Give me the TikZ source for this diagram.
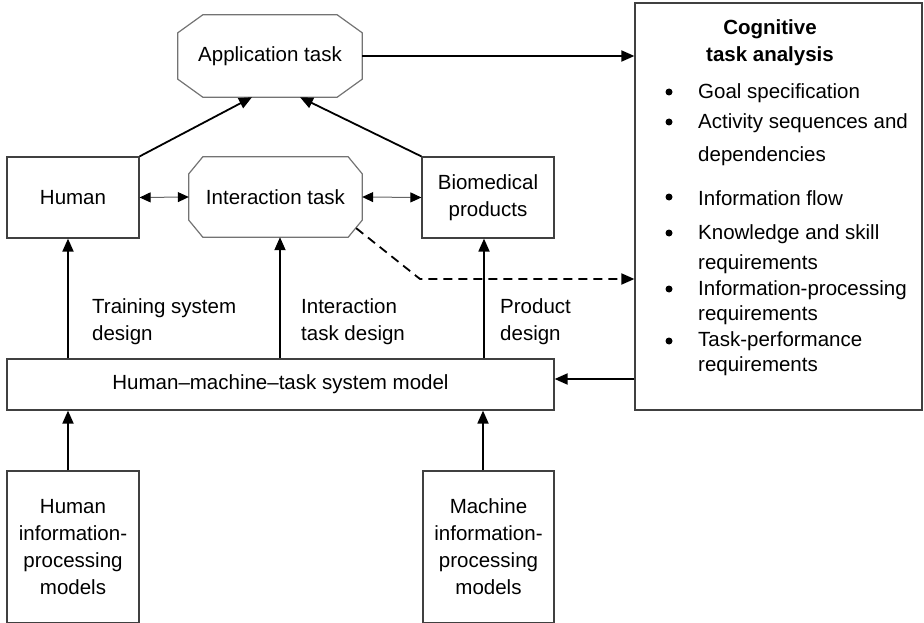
\documentclass[tikz,border=0pt]{standalone}
\usepackage{fontspec}
\setmainfont{Liberation Sans}
\usetikzlibrary{arrows.meta, positioning}

% octagon outline round a named node: #2 = corner cut across, #3 = corner cut down
\newcommand{\octframe}[3]{%
  \draw[octline] ([xshift=#2]#1.north west) -- ([xshift=-#2]#1.north east)
    -- ([yshift=-#3]#1.north east) -- ([yshift=#3]#1.south east)
    -- ([xshift=-#2]#1.south east) -- ([xshift=#2]#1.south west)
    -- ([yshift=#3]#1.south west) -- ([yshift=-#3]#1.north west) -- cycle;}

\begin{document}
\begin{tikzpicture}[
        x=1pt, y=-1pt,
        font=\fontsize{20.5pt}{27pt}\selectfont,
        box/.style={draw=black!75, line width=1.2pt, inner sep=0pt, align=center},
        octa/.style={inner sep=0pt, align=center},
        octline/.style={draw=black!55, line width=1.2pt},
        arr/.style={-{Triangle[length=13pt, width=11pt]}, line width=1.8pt},
        dbl/.style={{Triangle[length=11pt, width=10pt, color=black]}-{Triangle[length=11pt, width=10pt, color=black]}, line width=1pt, draw=black!60},
        dot/.style={circle, fill, inner sep=0pt, minimum size=7pt},
        lbl/.style={anchor=west, align=left, inner sep=0pt}
      ]
        \useasboundingbox (0,0) rectangle (924,623);

        % tasks and actors
        \node[octa, minimum width=184pt, minimum height=82pt] (app) at (270,56) {Application task};
        \octframe{app}{25pt}{18pt}
        \node[box, minimum width=132pt, minimum height=81pt] (human) at (73,197.5) {Human};
        \node[octa, minimum width=173pt, minimum height=80pt] (inter) at (275.5,197) {Interaction task};
        \octframe{inter}{14pt}{17pt}
        \node[box, minimum width=132pt, minimum height=81pt] (bio) at (488,197.5) {Biomedical\\products};

        % system model and its sources
        \node[box, minimum width=547pt, minimum height=51pt] (hmt) at (280.5,384.5) {Human--machine--task system model};
        \node[box, minimum width=132pt, minimum height=152pt] (hip) at (73,547) {Human\\information-\\processing\\models};
        \node[box, minimum width=131pt, minimum height=152pt] (mip) at (488.5,547) {Machine\\information-\\processing\\models};

        % cognitive task analysis
        \node[box, minimum width=287pt, minimum height=407pt] (cta) at (778.5,206.5) {};
        \node[align=center, inner sep=0pt, font=\fontsize{20.5pt}{27pt}\selectfont\bfseries] (ctatitle) at (770,43) {Cognitive\\task analysis};
        \foreach \y [count=\i] in {92,122,197,233,289,341}
          \node[dot] (dot\i) at (669,\y) {};
        \node[lbl] (goal) at (698,93) {Goal specification};
        \node[lbl] (seq) at (698,140) {Activity sequences and\\[6pt]dependencies};
        \node[lbl] (flow) at (698,198) {Information flow};
        \node[lbl] (skill) at (698,249) {Knowledge and skill\\[3pt]requirements};
        \node[lbl] (ipreq) at (698,302.5) {Information-processing\\[-2pt]requirements};
        \node[lbl] (tpreq) at (698,354) {Task-performance\\[-2pt]requirements};

        % design labels
        \node[lbl] (lbltrain) at (92,322) {Training system\\design};
        \node[lbl] (lblinter) at (301,322) {Interaction\\task design};
        \node[lbl] (lblprod) at (500,322) {Product\\design};

        % connectors
        \draw[arr] (app.east) -- (app.east -| cta.west);
        \draw[arr] (human.north east) -- ([xshift=-18pt]app.south);
        \draw[arr] (bio.north west) -- ([xshift=30pt]app.south);
        \draw[dbl] (human.east) -- (inter.west);
        \draw[dbl] (inter.east) -- (bio.west);
        \draw[arr] ([xshift=-5pt]human.south |- hmt.north) -- ([xshift=-5pt]human.south);
        \draw[arr] ([xshift=4.5pt]inter.south |- hmt.north) -- ([xshift=4.5pt]inter.south);
        \draw[arr] ([xshift=-4pt]bio.south |- hmt.north) -- ([xshift=-4pt]bio.south);
        \draw[arr] ([xshift=-5pt]hip.north) -- ([xshift=-5pt]hip.north |- hmt.south);
        \draw[arr] ([xshift=-5.5pt]mip.north) -- ([xshift=-5.5pt]mip.north |- hmt.south);
        \coordinate (hmtin) at ([yshift=5.5pt]hmt.east);
        \draw[arr] (cta.west |- hmtin) -- (hmtin);
        \coordinate (dashbend) at (420,279);
        \draw[arr, dash pattern=on 9pt off 6pt] ([xshift=-6pt, yshift=9pt]inter.south east) -- (dashbend) -- (dashbend -| cta.west);
      \end{tikzpicture}
\end{document}
